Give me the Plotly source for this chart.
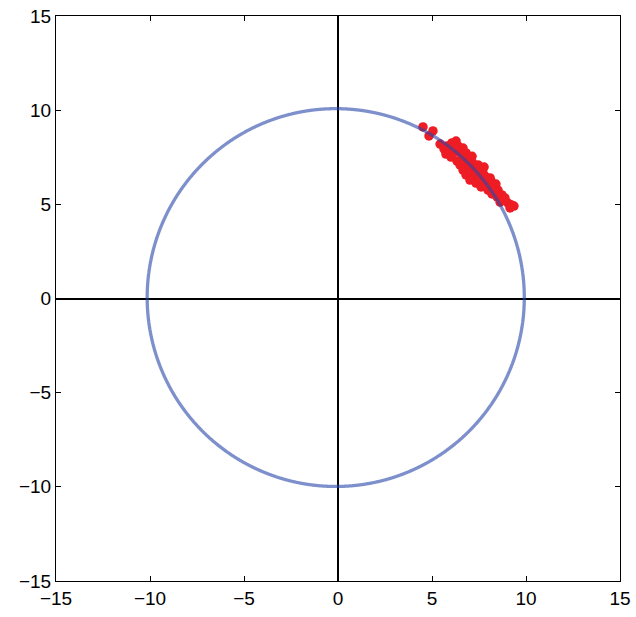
import numpy as np
import plotly.graph_objects as go

# Sample points clustered near the circle in the first quadrant
pts_x = [4.52, 5.05, 4.84, 5.43, 5.64, 5.80, 6.06, 6.28, 6.38, 5.74,
         6.01, 6.22, 6.49, 6.65, 6.81, 6.60, 6.33, 6.49, 6.76, 6.97,
         7.13, 6.91, 6.65, 6.81, 7.07, 7.29, 7.45, 7.66, 7.45, 7.23,
         7.02, 7.34, 7.55, 7.77, 7.93, 8.14, 7.82, 7.61, 7.98, 8.24,
         8.40, 8.51, 8.19, 8.46, 8.72, 8.88, 8.62, 9.04, 9.36, 9.20,
         9.15, 5.90, 6.17, 6.97, 7.39, 7.87, 8.30, 7.77, 8.09, 7.13]
pts_y = [9.11, 8.90, 8.63, 8.20, 7.94, 8.10, 8.26, 8.36, 8.10, 7.67,
         7.51, 7.78, 7.89, 7.99, 7.73, 7.51, 7.30, 7.09, 7.25, 7.46,
         7.25, 6.98, 6.82, 6.56, 6.72, 6.93, 7.09, 6.88, 6.61, 6.40,
         6.29, 6.13, 6.35, 6.56, 6.40, 6.24, 6.08, 5.92, 5.76, 5.97,
         6.08, 5.76, 5.55, 5.39, 5.50, 5.34, 5.12, 5.07, 4.91, 4.98,
         4.81, 7.89, 8.05, 7.14, 6.77, 5.92, 5.71, 6.98, 6.40, 7.55]

# Reference circle
circle_cx = -0.12
circle_cy = 0.05
circle_r = 10.03

tick_vals = [-15, -10, -5, 0, 5, 10, 15]

theta = np.linspace(0, 2 * np.pi, 1441)
circ_x = circle_cx + circle_r * np.cos(theta)
circ_y = circle_cy + circle_r * np.sin(theta)

fig = go.Figure()
fig.add_trace(go.Scatter(
    x=pts_x, y=pts_y, mode="markers",
    marker=dict(size=9.5, color="#ee1c24", line=dict(width=0)),
    hoverinfo="skip",
))
fig.add_trace(go.Scatter(
    x=circ_x, y=circ_y, mode="lines",
    line=dict(color="rgba(40,70,170,0.6)", width=3.3, shape="spline"),
    hoverinfo="skip",
))

axis_common = dict(
    range=[-15, 15],
    tickvals=tick_vals,
    ticks="inside",
    ticklen=5,
    tickwidth=1,
    tickcolor="black",
    showline=True,
    linecolor="black",
    linewidth=1,
    mirror="ticks",
    showgrid=False,
    zeroline=True,
    zerolinecolor="black",
    zerolinewidth=2,
    automargin=False,
    tickfont=dict(family="Liberation Sans, Arial, sans-serif", size=19, color="black"),
)

fig.update_layout(
    width=636,
    height=617,
    margin=dict(l=56, r=16, t=16, b=36),
    paper_bgcolor="white",
    plot_bgcolor="white",
    showlegend=False,
    xaxis=dict(**axis_common),
    yaxis=dict(**axis_common),
)

fig.write_html("out.html")
